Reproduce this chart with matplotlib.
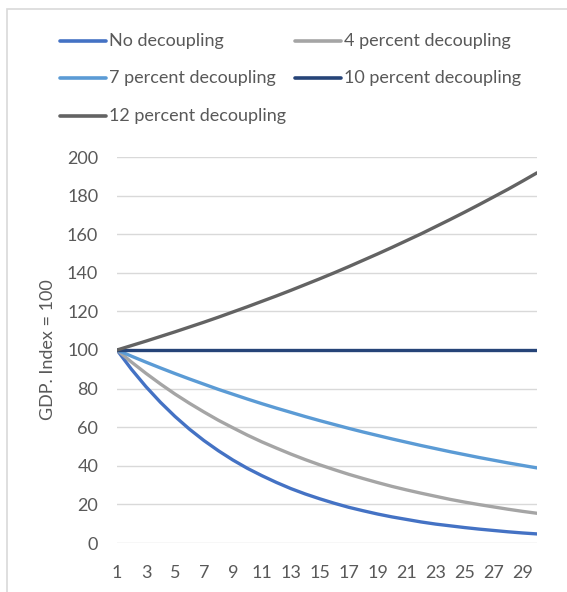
import matplotlib
matplotlib.use("Agg")
import matplotlib.pyplot as plt
from matplotlib.lines import Line2D

years = list(range(1, 31))
no_dec = [100, 90, 81, 72.9, 65.6, 59.0, 53.1, 47.8, 43.0, 38.7, 34.9, 31.4, 28.2, 25.4, 22.9,
          20.6, 18.5, 16.7, 15.0, 13.5, 12.2, 10.9, 9.8, 8.9, 8.0, 7.2, 6.5, 5.8, 5.2, 4.7]
dec4 = [100, 93.75, 87.9, 82.4, 77.2, 72.4, 67.9, 63.6, 59.7, 55.9, 52.4, 49.2, 46.1, 43.2, 40.5,
        38.0, 35.6, 33.4, 31.3, 29.3, 27.5, 25.8, 24.2, 22.6, 21.2, 19.9, 18.7, 17.5, 16.4, 15.4]
dec7 = [100, 96.8, 93.7, 90.7, 87.8, 85.0, 82.3, 79.6, 77.1, 74.6, 72.2, 69.9, 67.7, 65.5, 63.4,
        61.4, 59.4, 57.5, 55.7, 53.9, 52.2, 50.5, 48.9, 47.3, 45.8, 44.3, 42.9, 41.5, 40.2, 38.9]
dec10 = [100] * 30
dec12 = [100, 102.3, 104.6, 107.0, 109.4, 111.9, 114.4, 117.0, 119.7, 122.4, 125.2, 128.0, 130.9,
         133.9, 136.9, 140.0, 143.2, 146.5, 149.8, 153.2, 156.7, 160.2, 163.9, 167.6, 171.4,
         175.3, 179.3, 183.3, 187.5, 191.8]

labels = ["No decoupling", "4 percent decoupling", "7 percent decoupling",
          "10 percent decoupling", "12 percent decoupling"]
colors = ["#4472C4", "#A5A5A5", "#5B9BD5", "#264478", "#636363"]
series = [no_dec, dec4, dec7, dec10, dec12]
xticks = list(range(1, 30, 2))
yticks = list(range(0, 201, 20))

plt.rcParams['font.family'] = ['Lato', 'DejaVu Sans']
txt = "#595959"
fs = 13

W, H = 567, 592
fig = plt.figure(figsize=(W / 100, H / 100), dpi=100)

# outer chart frame
fig.add_artist(plt.Rectangle((6.5 / W, -0.01), 1.2, 1 - 9.5 / H + 0.01, transform=fig.transFigure,
                             fill=False, edgecolor="#D9D9D9", linewidth=1.2))

left, right, top, bottom = 117, 537, 157, 543
ax = fig.add_axes([left / W, 1 - bottom / H, (right - left) / W, (bottom - top) / H])
for s, c in zip(series, colors):
    ax.plot(years, s, color=c, linewidth=2.4, solid_capstyle='round')

ax.set_xlim(1, 30)
ax.set_ylim(0, 200)
ax.set_xticks(xticks)
ax.set_yticks(yticks)
ax.grid(axis='y', color="#D9D9D9", linewidth=1)
ax.set_axisbelow(True)
for sp in ax.spines.values():
    sp.set_visible(False)
ax.tick_params(length=0, labelsize=fs, colors=txt)
ax.tick_params(axis='x', pad=16)
ax.tick_params(axis='y', pad=13.5)
ax.set_ylabel("GDP. Index = 100", fontsize=fs, color=txt, labelpad=8)

# legend
rows = [41, 78, 116]
cols = [60, 295]
pos = [(cols[0], rows[0]), (cols[1], rows[0]), (cols[0], rows[1]), (cols[1], rows[1]), (cols[0], rows[2])]
for (x, y), lab, c in zip(pos, labels, colors):
    fy = 1 - y / H
    fig.add_artist(Line2D([x / W, (x + 46) / W], [fy, fy], transform=fig.transFigure,
                          color=c, linewidth=2.6, solid_capstyle='round'))
    fig.text((x + 49) / W, fy, lab, fontsize=fs, color=txt, va='center', ha='left')

fig.savefig("out.png", dpi=100, facecolor="white")
